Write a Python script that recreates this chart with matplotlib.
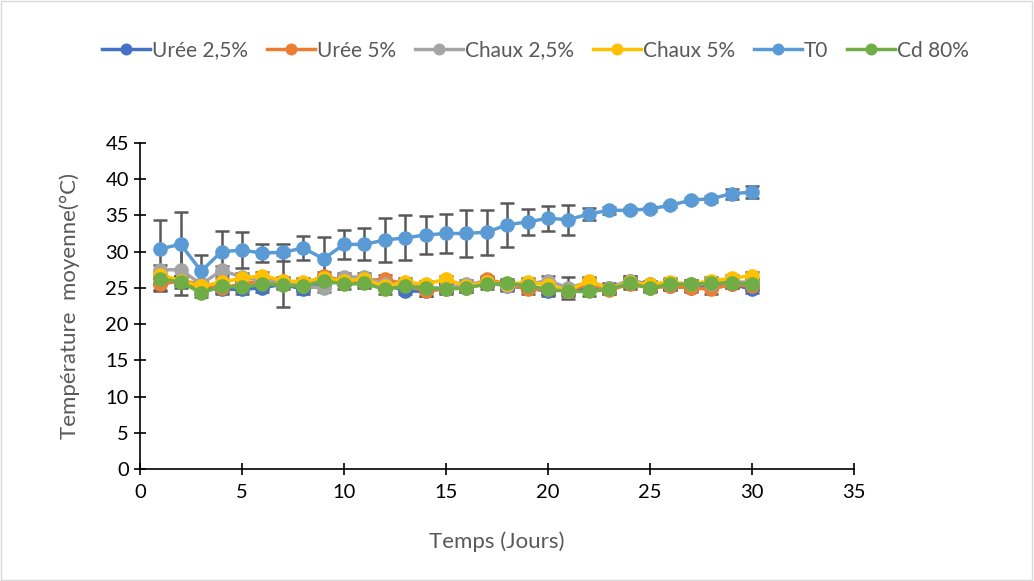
import matplotlib
matplotlib.use("Agg")
import matplotlib.pyplot as plt
from matplotlib.patches import Rectangle

plt.rcParams["font.family"] = ["Lato", "DejaVu Sans"]

days = list(range(1, 31))
uree25 = [25.5, 26.0, 25.0, 24.8, 24.8, 25.0, 25.5, 24.8, 25.5, 26.2, 25.8, 25.5, 24.6, 24.5, 25.0,
          25.3, 25.8, 25.2, 25.0, 24.5, 24.8, 25.0, 25.0, 26.0, 25.5, 25.2, 25.0, 25.5, 25.5, 24.8]
uree5 = [25.5, 26.0, 25.5, 25.0, 25.5, 26.0, 25.8, 25.5, 26.6, 26.0, 26.0, 26.2, 25.5, 24.5, 24.9,
         25.0, 26.2, 25.5, 24.8, 24.8, 24.6, 25.5, 24.7, 25.5, 25.0, 25.2, 25.0, 24.8, 25.5, 25.2]
chaux25 = [27.5, 27.5, 25.5, 27.4, 26.5, 26.0, 26.0, 25.2, 25.0, 26.5, 26.5, 25.5, 25.5, 25.0, 25.0,
           25.5, 25.8, 25.3, 25.5, 26.0, 25.0, 25.8, 25.0, 26.0, 25.2, 25.5, 25.5, 25.5, 25.8, 25.8]
chaux5 = [26.8, 26.0, 25.2, 25.8, 26.3, 26.7, 26.0, 25.8, 26.3, 26.0, 26.2, 25.2, 25.8, 25.5, 26.2,
          25.2, 25.8, 25.5, 25.8, 25.4, 24.6, 26.0, 24.9, 25.8, 25.5, 25.8, 25.5, 26.0, 26.3, 26.7]
t0 = [30.4, 31.0, 27.3, 30.0, 30.2, 29.8, 29.9, 30.5, 29.0, 31.0, 31.0, 31.6, 31.9, 32.3, 32.5,
      32.5, 32.7, 33.7, 34.1, 34.6, 34.4, 35.2, 35.7, 35.7, 35.9, 36.4, 37.1, 37.3, 38.0, 38.2]
cd80 = [26.2, 25.8, 24.3, 25.2, 25.1, 25.5, 25.4, 25.2, 26.0, 25.5, 25.6, 24.8, 25.2, 25.0, 24.8,
        25.0, 25.5, 25.6, 25.3, 24.8, 24.5, 24.5, 24.8, 25.6, 25.0, 25.5, 25.5, 25.6, 25.7, 25.5]

t0_err = [4.0, 4.4, 2.2, 2.8, 2.5, 1.3, 1.2, 1.7, 3.0, 2.0, 2.2, 3.1, 3.1, 2.6, 2.7,
          3.3, 3.1, 3.0, 1.8, 1.7, 2.1, 0.8, 0.5, 0.3, 0.3, 0.3, 0.3, 0.4, 0.7, 0.8]
uree25_err = [0.8, 0.6, 0.8, 0.7, 0.6, 0.6, 0.5, 0.6, 0.5, 0.6, 0.5, 0.6, 0.5, 0.6, 0.5,
              0.5, 0.5, 0.6, 0.5, 0.6, 0.5, 0.5, 0.5, 0.6, 0.5, 0.5, 0.5, 0.5, 0.5, 0.5]
uree5_err = [0.9, 0.6, 0.6, 0.7, 0.6, 0.6, 0.6, 0.6, 0.6, 0.6, 0.5, 0.6, 0.5, 0.6, 0.6,
             0.6, 0.5, 0.6, 0.6, 0.6, 0.6, 0.5, 0.5, 0.6, 0.5, 0.5, 0.6, 0.6, 0.5, 0.5]
chaux25_err = [0.6, 3.5, 0.6, 0.6, 0.6, 0.6, 3.6, 0.6, 0.6, 0.6, 0.6, 0.6, 0.6, 0.6, 0.6,
               0.6, 0.6, 0.6, 0.6, 0.6, 1.5, 0.6, 0.6, 0.6, 0.6, 0.6, 0.6, 0.6, 0.6, 0.6]
chaux5_err = [0.5] * 30
cd80_err = [0.6, 0.8, 0.6, 0.6, 0.6, 0.6, 0.6, 0.6, 0.6, 0.6, 0.6, 0.6, 0.6, 0.6, 0.6,
            0.6, 0.6, 0.6, 0.6, 0.6, 0.6, 0.6, 0.6, 0.6, 0.6, 0.6, 0.6, 0.6, 0.6, 0.6]

labels = ["Urée 2,5%", "Urée 5%", "Chaux 2,5%", "Chaux 5%", "T0", "Cd 80%"]
colors = ["#4472C4", "#ED7D31", "#A5A5A5", "#FFC000", "#5B9BD5", "#70AD47"]
series = [uree25, uree5, chaux25, chaux5, t0, cd80]
errors = [uree25_err, uree5_err, chaux25_err, chaux5_err, t0_err, cd80_err]

fig = plt.figure(figsize=(10.34, 5.81), dpi=100)
ax = fig.add_axes([0.1354, 0.1928, 0.6906, 0.5612])
fig.patches.append(Rectangle((0.001, 0.001), 0.997, 0.997, transform=fig.transFigure,
                             fill=False, edgecolor="#D9D9D9", lw=1))

handles = []
for vals, err, col, lab in zip(series, errors, colors, labels):
    ax.errorbar(days, vals, yerr=err, fmt="none", ecolor="#595959", elinewidth=1.8,
                capsize=5, capthick=1.8, zorder=2)
    h, = ax.plot(days, vals, "-o", color=col, lw=2.5, ms=9.5, label=lab, zorder=3)
    handles.append(h)

ax.set_xlim(0, 35)
ax.set_ylim(0, 45)
ax.set_xticks(range(0, 36, 5))
ax.set_yticks(range(0, 46, 5))
for s in ["top", "right"]:
    ax.spines[s].set_visible(False)
for s in ["left", "bottom"]:
    ax.spines[s].set_color("black")
    ax.spines[s].set_linewidth(1.2)
ax.tick_params(axis="both", direction="inout", length=9, width=1.2, labelsize=14.5,
               labelcolor="#000000")
ax.tick_params(axis="x", pad=6)
ax.set_xlabel("Temps (Jours)", fontsize=16, color="#595959", labelpad=22)
ax.set_ylabel("Température  moyenne(°C)", fontsize=16, color="#595959", labelpad=18)

fig.legend(handles=handles, loc="center", bbox_to_anchor=(0.518, 0.913), ncol=6,
           frameon=False, fontsize=15, handlelength=2.3, handletextpad=0.1,
           columnspacing=0.9, labelcolor="#595959", markerscale=0.8)

fig.savefig("out.png", dpi=100)
